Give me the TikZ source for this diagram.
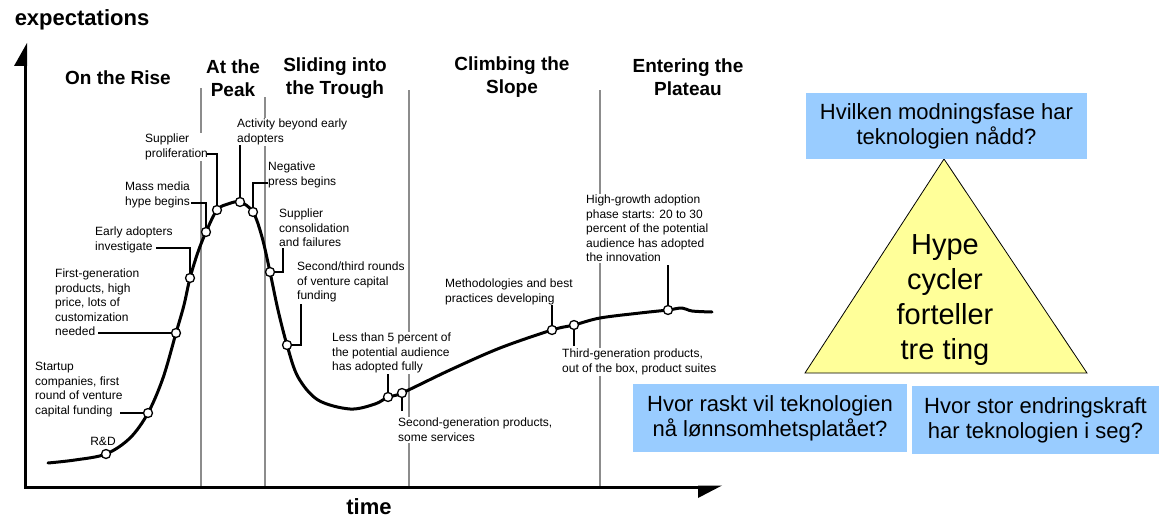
\documentclass[tikz,border=0pt]{standalone}
\usepackage{fontspec}
\setmainfont{Liberation Sans}
\usetikzlibrary{shapes.geometric, arrows}
\definecolor{qblue}{RGB}{153,204,255}
\definecolor{tyellow}{RGB}{255,255,153}
\tikzstyle{phase} = [font=\fontsize{19}{23}\selectfont\bfseries, align=center, inner sep=0pt]
\tikzstyle{event} = [font=\fontsize{12}{14.5}\selectfont, align=left, fill=white, inner sep=1pt, anchor=north west]
\tikzstyle{dot} = [circle, draw=black, line width=1.3pt, fill=white, inner sep=0pt, minimum size=9pt]
\tikzstyle{leader} = [line width=1.6pt]
\tikzstyle{divider} = [draw=black!45, line width=1.6pt]
\tikzstyle{axislabel} = [font=\fontsize{22}{26}\selectfont\bfseries, inner sep=0pt]
\tikzstyle{question} = [rectangle, fill=qblue, font=\fontsize{22}{25}\selectfont, align=center, inner sep=0pt]
\tikzstyle{hypeline} = [line width=3pt, line cap=round, line join=round]

\begin{document}
\begin{tikzpicture}[x=1pt, y=-1pt]
\useasboundingbox (0,0) rectangle (1159,519);
\draw [divider] (201,88) -- (201,487);
\draw [divider] (265,97) -- (265,487);
\draw [divider] (409,90) -- (409,487);
\draw [divider] (600,90) -- (600,487);
\coordinate (ytop) at (25,64);
\coordinate (origin) at (25,487);
\coordinate (xend) at (700,487);
\draw [line width=3pt] (ytop) -- (origin) -- (xend);
\fill (27,43) -- (27,66) -- (14,66) -- cycle;
\fill (698,485.5) -- (722,485.5) -- (698,498) -- cycle;
\node (expect) [axislabel] at (82,20) {expectations};
\node (time) [axislabel] at (369,507) {time};
\node (rise) [phase] at (118,78) {On the Rise};
\node (peak) [phase] at (233,78) {At the\\Peak};
\node (trough) [phase] at (335,78) {Sliding into\\the Trough};
\node (slope) [phase] at (512,77) {Climbing the\\Slope};
\node (plateau) [phase] at (688,77) {Entering the\\Plateau};
\node (rdtext) [event, anchor=center] at (103,441) {R\&D};
\node (startuptext) [event] at (34,361) {Startup\\companies, first\\round of venture\\capital funding};
\node (firstgentext) [event] at (54,268) {First-generation\\products, high\\price, lots of\\customization\\needed};
\node (earlytext) [event] at (94,226) {Early adopters\\investigate};
\node (mediatext) [event] at (124,181) {Mass media\\hype begins};
\node (proliftext) [event] at (144,133) {Supplier\\proliferation};
\node (activitytext) [event] at (236,118) {Activity beyond early\\adopters};
\node (negpresstext) [event] at (267,161) {Negative\\press begins};
\node (consoltext) [event] at (278,208) {Supplier\\consolidation\\and failures};
\node (roundstext) [event] at (296,261) {Second/third rounds\\of venture capital\\funding};
\node (lessfivetext) [event] at (331,332) {Less than 5 percent of\\the potential audience\\has adopted fully};
\node (secondgentext) [event] at (397,417) {Second-generation products,\\some services};
\node (methodtext) [event] at (444,278) {Methodologies and best\\practices developing};
\node (thirdgentext) [event] at (561,348) {Third-generation products,\\out of the box, product suites};
\node (highgrowthtext) [event] at (585,194) {High-growth adoption\\phase starts: 20 to 30\\percent of the potential\\audience has adopted\\the innovation};
\draw [hypeline] plot [smooth, tension=0.55] coordinates {(48,463) (75,460) (106,454) (130,438) (148,413) (163,378) (176,333) (184,305) (190,278) (198,252) (206,232) (217,210) (228,204) (240,202) (253,212) (262,237) (270,272) (278,310) (287,345) (298,377) (318,400) (350,409) (375,404) (388,397) (402,393) (450,370) (500,348) (552,330) (574,325) (600,318) (640,313) (668,310) (682,308) (692,311) (712,312)};
\node (rd) [dot] at (106,454) {};
\node (startup) [dot] at (148,413) {};
\node (firstgen) [dot] at (176,333) {};
\node (early) [dot] at (190,278) {};
\node (media) [dot] at (206,232) {};
\node (prolif) [dot] at (217,210) {};
\node (activity) [dot] at (240,202) {};
\node (negpress) [dot] at (253,212) {};
\node (consol) [dot] at (270,272) {};
\node (rounds) [dot] at (287,345) {};
\node (lessfive) [dot] at (388,397) {};
\node (secondgen) [dot] at (402,393) {};
\node (method) [dot] at (552,330) {};
\node (thirdgen) [dot] at (574,325) {};
\node (highgrowth) [dot] at (668,310) {};
\coordinate (startupend) at (120,413);
\coordinate (firstgenend) at (98,333);
\coordinate (earlyend) at (156,248);
\coordinate (mediaend) at (191,203);
\coordinate (prolifend) at (207,154);
\coordinate (activityend) at (240,145);
\coordinate (negpressend) at (268,183);
\coordinate (consolend) at (283,248);
\coordinate (roundsend) at (301,304);
\coordinate (lessfiveend) at (388,374);
\coordinate (secondgenend) at (402,411);
\coordinate (methodend) at (552,305);
\coordinate (thirdgenend) at (574,346);
\coordinate (highgrowthend) at (668,265);
\draw [leader] (startupend) -- (startup);
\draw [leader] (firstgenend) -- (firstgen);
\draw [leader] (earlyend) -| (early);
\draw [leader] (mediaend) -| (media);
\draw [leader] (prolifend) -| (prolif);
\draw [leader] (activityend) -- (activity);
\draw [leader] (negpressend) -| (negpress);
\draw [leader] (consolend) |- (consol);
\draw [leader] (roundsend) |- (rounds);
\draw [leader] (lessfiveend) -- (lessfive);
\draw [leader] (secondgenend) -- (secondgen);
\draw [leader] (methodend) -- (method);
\draw [leader] (thirdgenend) -- (thirdgen);
\draw [leader] (highgrowthend) -- (highgrowth);
\coordinate (apex) at (944,159);
\coordinate (baseright) at (1087,373);
\coordinate (baseleft) at (805,373);
\filldraw [fill=tyellow, draw=black, line width=0.8pt] (apex) -- (baseright) -- (baseleft) -- cycle;
\node (hype) [font=\fontsize{29}{35}\selectfont, align=center, inner sep=0pt] at (945,300) {Hype\\cycler\\forteller\\tre ting};
\node (phaseq) [question, minimum width=281pt, minimum height=66pt] at (946.5,126) {Hvilken modningsfase har\\teknologien nådd?};
\node (speedq) [question, minimum width=274pt, minimum height=68pt] at (770,418) {Hvor raskt vil teknologien\\nå lønnsomhetsplatået?};
\node (forceq) [question, minimum width=247pt, minimum height=68pt] at (1035.5,420) {Hvor stor endringskraft\\har teknologien i seg?};
\end{tikzpicture}
\end{document}
